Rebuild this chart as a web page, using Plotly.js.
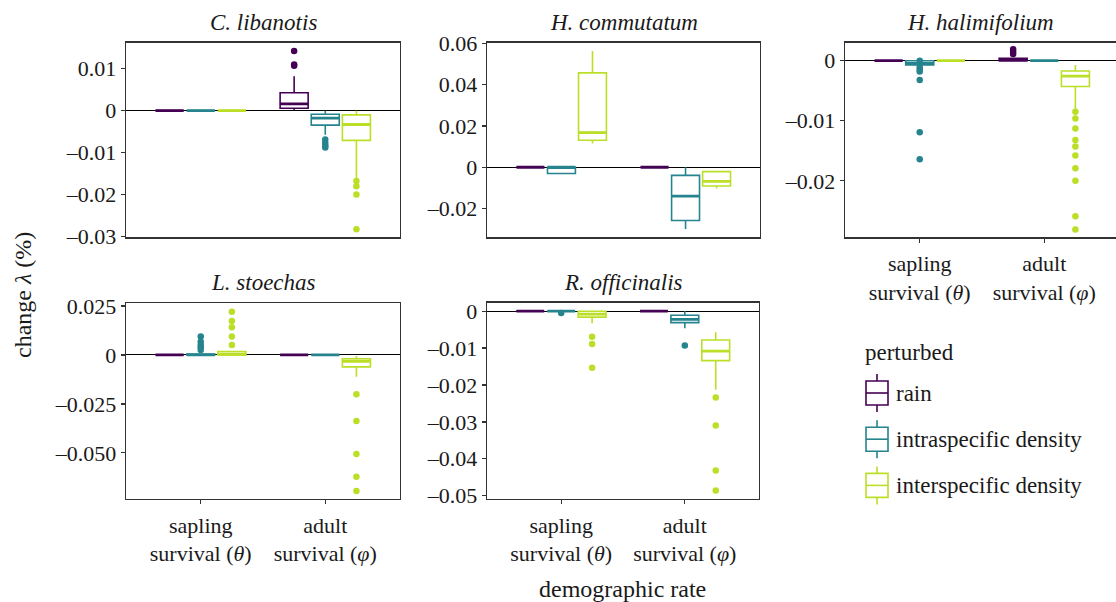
<!DOCTYPE html>
<html>
<head>
<meta charset="utf-8">
<script src="https://cdn.plot.ly/plotly-3.0.1.min.js"></script>
<style>html,body{margin:0;padding:0;background:#fff;}#chart{width:1116px;height:602px;}</style>
</head>
<body>
<div id="chart"></div>
<script>
// ---------------- data ----------------
const categories = ['sapling survival (θ)', 'adult survival (φ)'];
const categoryLabels = ['sapling<br>survival (<i>θ</i>)', 'adult<br>survival (<i>φ</i>)'];
const perturbed = ['rain', 'intraspecific density', 'interspecific density'];
const colors = ['#440154', '#25848E', '#BBDF27'];
const species = ['C. libanotis', 'H. commutatum', 'H. halimifolium', 'L. stoechas', 'R. officinalis'];

// box statistics: [series][category] -> [lowerfence, q1, median, q3, upperfence]
const libanotisStats = [
  [[0, 0, 0, 0, 0], [0.0000, 0.00057, 0.00159, 0.00427, 0.0082]],
  [[0, 0, 0, 0, 0], [-0.00576, -0.00346, -0.0018, -0.00085, 0]],
  [[0, 0, 0, 0, 0], [-0.0164, -0.0071, -0.0033, -0.00102, 0]]
];
const libanotisOutliers = [
  [[], [0.0142, 0.0110, 0.0107]],
  [[], [-0.0069, -0.0077, -0.0084, -0.0088]],
  [[], [-0.0168, -0.0180, -0.0200, -0.0283]]
];
const commutatumStats = [
  [[0, 0, 0, 0, 0], [0, 0, 0, 0, 0]],
  [[-0.003, -0.003, 0, 0, 0], [-0.0299, -0.0258, -0.0140, -0.0039, 0]],
  [[0.0115, 0.0131, 0.0168, 0.0457, 0.0563], [-0.0103, -0.0091, -0.0068, -0.0021, -0.0021]]
];
const commutatumOutliers = [[[], []], [[], []], [[], []]];
const halimifoliumStats = [
  [[0, 0, 0, 0, 0], [0, 0, 0.0001, 0.0004, 0.0004]],
  [[-0.0008, -0.0007, -0.00045, 0, 0], [0, 0, 0, 0, 0]],
  [[0, 0, 0, 0, 0], [-0.0082, -0.0043, -0.00255, -0.0017, -0.0007]]
];
const halimifoliumOutliers = [
  [[], [0.0019, 0.0015, 0.0011]],
  [[0.0000, -0.0011, -0.0015, -0.0018, -0.0032, -0.0119, -0.0164], []],
  [[], [-0.0085, -0.0096, -0.0113, -0.0132, -0.0143, -0.0158, -0.0179, -0.0200, -0.0259, -0.0281]]
];
const stoechasStats = [
  [[0, 0, 0, 0, 0], [0, 0, 0, 0, 0]],
  [[0, 0, 0, 0.0005, 0.0005], [0, 0, 0, 0, 0]],
  [[0, 0, 0.0003, 0.0017, 0.0017], [-0.0111, -0.0061, -0.0032, -0.0019, -0.0005]]
];
const stoechasOutliers = [
  [[], []],
  [[0.0094, 0.0068, 0.0051, 0.0039, 0.0026], []],
  [[0.0221, 0.0174, 0.0142, 0.0094, 0.0051], [-0.0201, -0.0337, -0.0506, -0.0622, -0.0695]]
];
const officinalisStats = [
  [[0, 0, 0, 0, 0], [0, 0, 0, 0, 0]],
  [[0, 0, 0, 0, 0], [-0.0046, -0.0031, -0.0022, -0.0011, 0]],
  [[-0.0033, -0.0016, -0.0008, 0, 0], [-0.0213, -0.0134, -0.0108, -0.0078, -0.0057]]
];
const officinalisOutliers = [
  [[], []],
  [[-0.0005], [-0.0093]],
  [[-0.0069, -0.0089, -0.0153], [-0.0234, -0.0310, -0.0432, -0.0486]]
];

// y tick values / labels per species
const yTicks1 = [0.01, 0, -0.01, -0.02, -0.03];
const yLabels1 = ['0.01', '0', '–0.01', '–0.02', '–0.03'];
const yTicks2 = [0.06, 0.04, 0.02, 0, -0.02];
const yLabels2 = ['0.06', '0.04', '0.02', '0', '–0.02'];
const yTicks3 = [0, -0.01, -0.02];
const yLabels3 = ['0', '–0.01', '–0.02'];
const yTicks4 = [0.025, 0, -0.025, -0.05];
const yLabels4 = ['0.025', '0', '–0.025', '–0.050'];
const yTicks5 = [0, -0.01, -0.02, -0.03, -0.04, -0.05];
const yLabels5 = ['0', '–0.01', '–0.02', '–0.03', '–0.04', '–0.05'];

// ---------------- layout ----------------
const W = 1116, H = 602;
const FONT = 'Liberation Serif';
const TXT = '#1a1a1a';
const panels = [
  {stats: libanotisStats, out: libanotisOutliers, ticks: yTicks1, labels: yLabels1, x0: 126, x1: 400, y0: 42.7, y1: 237.3, yr: [-0.0302, 0.0162], xlab: false},
  {stats: commutatumStats, out: commutatumOutliers, ticks: yTicks2, labels: yLabels2, x0: 487, x1: 760, y0: 42.7, y1: 237.3, yr: [-0.0339, 0.0603], xlab: false},
  {stats: halimifoliumStats, out: halimifoliumOutliers, ticks: yTicks3, labels: yLabels3, x0: 845, x1: 1116, y0: 42.7, y1: 237.3, yr: [-0.0294, 0.0030], xlab: true, xr: [-0.6, 1.576]},
  {stats: stoechasStats, out: stoechasOutliers, ticks: yTicks4, labels: yLabels4, x0: 126, x1: 400, y0: 303.3, y1: 499, yr: [-0.0736, 0.0264], xlab: true},
  {stats: officinalisStats, out: officinalisOutliers, ticks: yTicks5, labels: yLabels5, x0: 487, x1: 759, y0: 302.7, y1: 499, yr: [-0.0509, 0.0023], xlab: true}
];
const dodge = 0.25, boxW = 0.225;

const traces = [];
const layout = {
  width: W, height: H,
  margin: {l: 0, r: 0, t: 0, b: 0},
  paper_bgcolor: '#fff', plot_bgcolor: '#fff',
  font: {family: FONT, size: 22, color: TXT},
  showlegend: false,
  boxmode: 'overlay',
  annotations: [], shapes: []
};

panels.forEach((p, k) => {
  const n = k + 1;
  const xa = 'x' + (n === 1 ? '' : n), ya = 'y' + (n === 1 ? '' : n);
  const xaKey = 'xaxis' + (n === 1 ? '' : n), yaKey = 'yaxis' + (n === 1 ? '' : n);
  layout[xaKey] = {
    domain: [p.x0 / W, p.x1 / W], anchor: ya,
    range: p.xr || [-0.6, 1.6], fixedrange: true,
    showline: true, mirror: true, linecolor: '#333', linewidth: 1.3,
    showgrid: false, zeroline: false,
    tickmode: 'array', tickvals: categories.map((c, i) => i), ticktext: categoryLabels,
    ticks: p.xlab ? 'outside' : '', ticklen: 4, tickwidth: 1.3, tickcolor: '#333',
    showticklabels: p.xlab, ticklabelstandoff: 2,
    tickfont: {family: FONT, size: 22, color: TXT}
  };
  layout[yaKey] = {
    domain: [1 - p.y1 / H, 1 - p.y0 / H], anchor: xa,
    range: p.yr, fixedrange: true,
    showline: true, mirror: true, linecolor: '#333', linewidth: 1.3,
    showgrid: false, zeroline: true, zerolinecolor: '#000', zerolinewidth: 1,
    tickmode: 'array', tickvals: p.ticks, ticktext: p.labels,
    ticks: 'outside', ticklen: 4, tickwidth: 1.3, tickcolor: '#333',
    tickfont: {family: FONT, size: 22, color: TXT}
  };
  perturbed.forEach((name, s) => {
    const off = (s - 1) * dodge;
    const st = p.stats[s];
    traces.push({
      type: 'box', name: name, xaxis: xa, yaxis: ya,
      legendgroup: name, showlegend: false,
      x: categories.map((c, i) => i + off),
      lowerfence: st.map(v => v[0]), q1: st.map(v => v[1]), median: st.map(v => v[2]),
      q3: st.map(v => v[3]), upperfence: st.map(v => v[4]),
      width: boxW, whiskerwidth: 0, boxpoints: false,
      line: {color: colors[s], width: 1.6}, fillcolor: 'rgba(255,255,255,0)',
      hoverinfo: 'skip'
    });
    // thicker median bar (ggplot style)
    const mx = [], my = [];
    categories.forEach((c, i) => {
      mx.push(i + off - boxW / 2, i + off + boxW / 2, null);
      my.push(st[i][2], st[i][2], null);
    });
    traces.push({
      type: 'scatter', mode: 'lines', xaxis: xa, yaxis: ya,
      x: mx, y: my, showlegend: false, legendgroup: name,
      line: {color: colors[s], width: 2.8}, hoverinfo: 'skip'
    });
    const ox = [], oy = [];
    categories.forEach((c, i) => {
      p.out[s][i].forEach(v => { ox.push(i + off); oy.push(v); });
    });
    if (ox.length) {
      traces.push({
        type: 'scatter', mode: 'markers', xaxis: xa, yaxis: ya,
        x: ox, y: oy, showlegend: false, legendgroup: name,
        marker: {color: colors[s], size: 6.5}, hoverinfo: 'skip'
      });
    }
  });
  layout.annotations.push({
    text: '<i>' + species[k] + '</i>', xref: 'paper', yref: 'paper',
    x: ((p.x0 + Math.min(p.x1, p.x0 + 274)) / 2) / W, y: 1 - (p.y0 - 6) / H,
    xanchor: 'center', yanchor: 'bottom', showarrow: false,
    font: {family: FONT, size: 23, color: TXT}
  });
});

// ---------------- legend (box-shaped keys drawn as shapes) ----------------
const px = v => v / W, py = v => 1 - v / H;
layout.annotations.push({
  text: 'perturbed', xref: 'paper', yref: 'paper',
  x: px(863), y: py(352), xanchor: 'left', yanchor: 'middle', showarrow: false,
  font: {family: FONT, size: 23, color: TXT}
});
perturbed.forEach((name, s) => {
  const cy = 393 + s * 46.2;           // key centre (pixels)
  const kx0 = 866, kx1 = 888, kc = 877;
  const line = {color: colors[s], width: 1.6};
  const sh = (o) => Object.assign({xref: 'paper', yref: 'paper', line: line}, o);
  layout.shapes.push(sh({type: 'rect', x0: px(kx0), x1: px(kx1), y0: py(cy - 12), y1: py(cy + 12)}));
  layout.shapes.push(sh({type: 'line', x0: px(kx0), x1: px(kx1), y0: py(cy), y1: py(cy)}));
  layout.shapes.push(sh({type: 'line', x0: px(kc), x1: px(kc), y0: py(cy - 19), y1: py(cy - 12)}));
  layout.shapes.push(sh({type: 'line', x0: px(kc), x1: px(kc), y0: py(cy + 12), y1: py(cy + 19)}));
  layout.annotations.push({
    text: name, xref: 'paper', yref: 'paper',
    x: px(894), y: py(cy), xanchor: 'left', yanchor: 'middle', showarrow: false,
    font: {family: FONT, size: 23, color: TXT}
  });
});

layout.annotations.push({
  text: 'demographic rate', xref: 'paper', yref: 'paper',
  x: 622 / W, y: 1 - 589 / H, xanchor: 'center', yanchor: 'middle', showarrow: false,
  font: {family: FONT, size: 24, color: TXT}
});
layout.annotations.push({
  text: 'change <i>λ</i> (%)', xref: 'paper', yref: 'paper',
  x: 23 / W, y: 1 - 295 / H, xanchor: 'center', yanchor: 'middle', showarrow: false,
  textangle: -90,
  font: {family: FONT, size: 24, color: TXT}
});

Plotly.newPlot('chart', traces, layout, {staticPlot: true});
</script>
</body>
</html>
